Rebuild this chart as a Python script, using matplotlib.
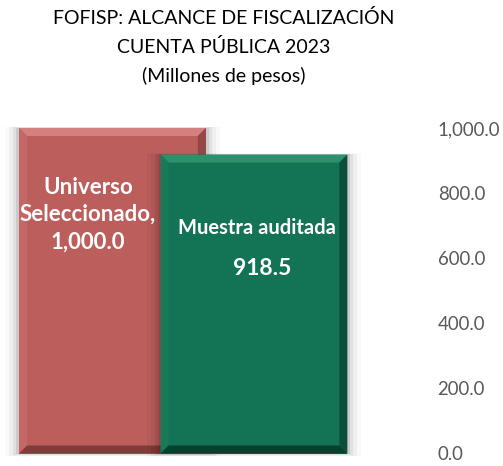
import matplotlib.pyplot as plt
from matplotlib.patches import Polygon, Rectangle

plt.rcParams['font.family'] = ['Lato', 'DejaVu Sans']

# data
categories = ['Universo Seleccionado', 'Muestra auditada']
values = [1000.0, 918.5]
bar_colors = ['#BB5E5C', '#137355']
bevel_colors = [
    # top, left, right, bottom
    ['#D3807E', '#C46866', '#924846', '#7E3D3B'],
    ['#2C926C', '#19795A', '#0B4E39', '#083F2D'],
]
yticks = [0, 200, 400, 600, 800, 1000]
title_lines = ['FOFISP: ALCANCE DE FISCALIZACIÓN', 'CUENTA PÚBLICA 2023', '(Millones de pesos)']

W, H = 503, 466
fig = plt.figure(figsize=(W / 100, H / 100), dpi=100)
ax = fig.add_axes([0, 12.5 / H, 430 / W, 325.5 / H])

x = [0, 1]
width = 1.32
ax.set_xlim(-0.795, 2.244)
ax.set_ylim(0, 1000)

# pixel -> data scale, for bevel and shadow sizes
sx = (ax.get_xlim()[1] - ax.get_xlim()[0]) / 430
sy = 1000 / 325.5

bars = ax.bar(x, values, width=width, color=bar_colors, zorder=3)
for i, b in enumerate(bars):
    b.set_zorder(3 + 2 * i)
    x0, w, h = b.get_x(), b.get_width(), b.get_height()
    # soft shadow, mostly to the sides
    for k, a in [(14, 0.025), (10, 0.04), (6, 0.06), (3, 0.09)]:
        ax.add_patch(Rectangle((x0 - k * sx, -k * sy * 0.2), w + 2 * k * sx, h + k * sy * 0.3,
                               color='black', alpha=a, lw=0, zorder=2 + 2 * i, clip_on=False))
    bx, by = 8 * sx, 8 * sy
    top, left, right, bottom = bevel_colors[i]
    polys = [
        ([(x0, h), (x0 + w, h), (x0 + w - bx, h - by), (x0 + bx, h - by)], top),
        ([(x0, 0), (x0, h), (x0 + bx, h - by), (x0 + bx, by)], left),
        ([(x0 + w, 0), (x0 + w, h), (x0 + w - bx, h - by), (x0 + w - bx, by)], right),
        ([(x0, 0), (x0 + w, 0), (x0 + w - bx, by), (x0 + bx, by)], bottom),
    ]
    for pts, c in polys:
        ax.add_patch(Polygon(pts, closed=True, color=c, lw=0, zorder=3.5 + 2 * i, clip_on=False))

# data labels
ax.text(x[0] - 0.173, 734, 'Universo\nSeleccionado,\n{:,.1f}'.format(values[0]),
        ha='center', va='center', color='white', fontsize=16, fontweight='bold',
        linespacing=1.38, zorder=10)
ax.text(x[1] + 0.02, 694, 'Muestra auditada', ha='center', va='center', color='white',
        fontsize=14.5, fontweight='bold', zorder=10)
ax.text(x[1] + 0.06, 569, '{:,.1f}'.format(values[1]), ha='center', va='center', color='white',
        fontsize=16.5, fontweight='bold', zorder=10)

# axis on the right
ax.yaxis.tick_right()
ax.set_yticks(yticks)
ax.set_yticklabels(['{:,.1f}'.format(v) for v in yticks])
ax.tick_params(axis='y', length=0, pad=5.5, labelsize=13.4, labelcolor='#595959')
ax.set_xticks([])
for s in ax.spines.values():
    s.set_visible(False)
ax.patch.set_alpha(0)

for j, line in enumerate(title_lines):
    fig.text(224 / W, 1 - (18 + 29 * j) / H, line, ha='center', va='center',
             fontsize=14, color='black')

fig.savefig('out.png', dpi=100)
